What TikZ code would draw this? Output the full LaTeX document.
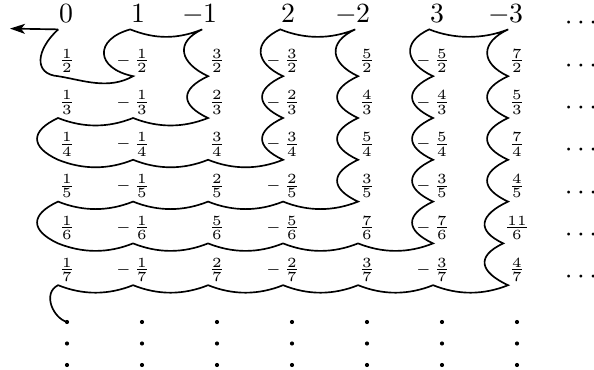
\RequirePackage{fix-cm}
\documentclass[tikz,border=0pt]{standalone}
\usetikzlibrary{arrows.meta}
\begin{document}
\begin{tikzpicture}[x = 0.36pt, y = -0.36pt, line width = 0.6pt, label distance = 0.4pt,
		fr/.style = {font = \fontsize{7.2}{8}\selectfont},
		whole/.style = {anchor = base, inner xsep = 0pt, inner ysep = 2pt},
		part/.style = {fr, anchor = base, inner xsep = 0pt, inner ysep = 1pt},
		wneg/.style = {label = {[inner sep = 0pt, xshift = 1.2pt, yshift = -0.72pt]left:$-$}},
		neg/.style = {label = {[fr, inner sep = 0pt]left:$\scriptstyle-$}},
		more/.style = {anchor = base},
		sagR/.style = {to path = {.. controls +(25, 10) and +(-25, 10) .. (\tikztotarget)}},
		sagL/.style = {to path = {.. controls +(-25, 10) and +(25, 10) .. (\tikztotarget)}},
		bulgeD/.style = {to path = {.. controls +(-28, 13) and +(-28, -13) .. (\tikztotarget)}},
		bulgeU/.style = {to path = {.. controls +(-28, -13) and +(-28, 13) .. (\tikztotarget)}}]
			\useasboundingbox (0, 0) rectangle (594, 370);
			% integers
			\node[whole] (a1) at (66, 23)  {$0$};
			\node[whole] (a2) at (138, 23) {$1$};
			\node[whole, wneg] (a3) at (210, 23) {$1$};
			\node[whole] (a4) at (288, 23) {$2$};
			\node[whole, wneg] (a5) at (363, 23) {$2$};
			\node[whole] (a6) at (437, 23) {$3$};
			\node[whole, wneg] (a7) at (516, 23) {$3$};
			% halves
			\node[part] (b1) at (67, 65.7)       {$\frac{1}{2}$};
			\node[part, neg] (b2) at (142, 65.7) {$\frac{1}{2}$};
			\node[part] (b3) at (217, 65.7)      {$\frac{3}{2}$};
			\node[part, neg] (b4) at (292, 65.7) {$\frac{3}{2}$};
			\node[part] (b5) at (367, 65.7)      {$\frac{5}{2}$};
			\node[part, neg] (b6) at (442, 65.7) {$\frac{5}{2}$};
			\node[part] (b7) at (517, 65.7)      {$\frac{7}{2}$};
			% thirds
			\node[part] (c1) at (67, 107.5)       {$\frac{1}{3}$};
			\node[part, neg] (c2) at (142, 107.5) {$\frac{1}{3}$};
			\node[part] (c3) at (217, 107.5)      {$\frac{2}{3}$};
			\node[part, neg] (c4) at (292, 107.5) {$\frac{2}{3}$};
			\node[part] (c5) at (367, 107.5)      {$\frac{4}{3}$};
			\node[part, neg] (c6) at (442, 107.5) {$\frac{4}{3}$};
			\node[part] (c7) at (517, 107.5)      {$\frac{5}{3}$};
			% quarters
			\node[part] (d1) at (67, 149.3)       {$\frac{1}{4}$};
			\node[part, neg] (d2) at (142, 149.3) {$\frac{1}{4}$};
			\node[part] (d3) at (217, 149.3)      {$\frac{3}{4}$};
			\node[part, neg] (d4) at (292, 149.3) {$\frac{3}{4}$};
			\node[part] (d5) at (367, 149.3)      {$\frac{5}{4}$};
			\node[part, neg] (d6) at (442, 149.3) {$\frac{5}{4}$};
			\node[part] (d7) at (517, 149.3)      {$\frac{7}{4}$};
			% fifths
			\node[part] (e1) at (67, 191.1)       {$\frac{1}{5}$};
			\node[part, neg] (e2) at (142, 191.1) {$\frac{1}{5}$};
			\node[part] (e3) at (217, 191.1)      {$\frac{2}{5}$};
			\node[part, neg] (e4) at (292, 191.1) {$\frac{2}{5}$};
			\node[part] (e5) at (367, 191.1)      {$\frac{3}{5}$};
			\node[part, neg] (e6) at (442, 191.1) {$\frac{3}{5}$};
			\node[part] (e7) at (517, 191.1)      {$\frac{4}{5}$};
			% sixths
			\node[part] (f1) at (67, 232.9)       {$\frac{1}{6}$};
			\node[part, neg] (f2) at (142, 232.9) {$\frac{1}{6}$};
			\node[part] (f3) at (217, 232.9)      {$\frac{5}{6}$};
			\node[part, neg] (f4) at (292, 232.9) {$\frac{5}{6}$};
			\node[part] (f5) at (367, 232.9)      {$\frac{7}{6}$};
			\node[part, neg] (f6) at (442, 232.9) {$\frac{7}{6}$};
			\node[part] (f7) at (517, 232.9)      {$\frac{11}{6}$};
			% sevenths
			\node[part] (g1) at (67, 274.7)       {$\frac{1}{7}$};
			\node[part, neg] (g2) at (142, 274.7) {$\frac{1}{7}$};
			\node[part] (g3) at (217, 274.7)      {$\frac{2}{7}$};
			\node[part, neg] (g4) at (292, 274.7) {$\frac{2}{7}$};
			\node[part] (g5) at (367, 274.7)      {$\frac{3}{7}$};
			\node[part, neg] (g6) at (442, 274.7) {$\frac{3}{7}$};
			\node[part] (g7) at (517, 274.7)      {$\frac{4}{7}$};
			% dots to the right
			\node[more] (h1) at (581, 29.9)  {$\cdots$};
			\node[more] (h2) at (581, 72.2)  {$\cdots$};
			\node[more] (h3) at (581, 114.5) {$\cdots$};
			\node[more] (h4) at (581, 156.8) {$\cdots$};
			\node[more] (h5) at (581, 199.1) {$\cdots$};
			\node[more] (h6) at (581, 241.4) {$\cdots$};
			\node[more] (h7) at (581, 283.7) {$\cdots$};
			% dots below
			\coordinate (v1) at (67, 322);
			\fill (v1) circle (0.75pt) (142, 322) circle (0.75pt) (217, 322) circle (0.75pt) (292, 322) circle (0.75pt)
				(367, 322) circle (0.75pt) (442, 322) circle (0.75pt) (517, 322) circle (0.75pt);
			\fill (67, 343.5) circle (0.75pt) (142, 343.5) circle (0.75pt) (217, 343.5) circle (0.75pt) (292, 343.5) circle (0.75pt)
				(367, 343.5) circle (0.75pt) (442, 343.5) circle (0.75pt) (517, 343.5) circle (0.75pt);
			\fill (67, 365) circle (0.75pt) (142, 365) circle (0.75pt) (217, 365) circle (0.75pt) (292, 365) circle (0.75pt)
				(367, 365) circle (0.75pt) (442, 365) circle (0.75pt) (517, 365) circle (0.75pt);
			% arrow
			\coordinate (tip) at (10, 28.6);
			\draw[-{Stealth[length = 5.4pt, width = 3.6pt, inset = 1.4pt]}] (a1.south west) -- (tip);
			% the snake
			\draw (a1.south west) .. controls +(-22, 20) and +(-25, -2) .. (b1.south west)
				.. controls +(25, 4) and +(-25, 14) .. (b2.south west)
				.. controls +(-38, -8) and +(-36, 10) .. (a2.south west)
				to[sagR] (a3.south west) to[bulgeD] (b3.south west) to[bulgeD] (c3.south west)
				to[sagL] (c2.south west) to[sagL] (c1.south west) to[bulgeD] (d1.south west)
				to[sagR] (d2.south west) to[sagR] (d3.south west) to[sagR] (d4.south west)
				to[bulgeU] (c4.south west) to[bulgeU] (b4.south west) to[bulgeU] (a4.south west)
				to[sagR] (a5.south west) to[bulgeD] (b5.south west) to[bulgeD] (c5.south west)
				to[bulgeD] (d5.south west) to[bulgeD] (e5.south west)
				to[sagL] (e4.south west) to[sagL] (e3.south west) to[sagL] (e2.south west) to[sagL] (e1.south west)
				to[bulgeD] (f1.south west)
				to[sagR] (f2.south west) to[sagR] (f3.south west) to[sagR] (f4.south west) to[sagR] (f5.south west)
				to[sagR] (f6.south west)
				to[bulgeU] (e6.south west) to[bulgeU] (d6.south west) to[bulgeU] (c6.south west)
				to[bulgeU] (b6.south west) to[bulgeU] (a6.south west)
				to[sagR] (a7.south west) to[bulgeD] (b7.south west) to[bulgeD] (c7.south west)
				to[bulgeD] (d7.south west) to[bulgeD] (e7.south west) to[bulgeD] (f7.south west)
				to[bulgeD] (g7.south west)
				to[sagL] (g6.south west) to[sagL] (g5.south west) to[sagL] (g4.south west) to[sagL] (g3.south west)
				to[sagL] (g2.south west) to[sagL] (g1.south west)
				.. controls +(-16, 8) and +(-14, -4) .. (v1);
		\end{tikzpicture}
\end{document}
